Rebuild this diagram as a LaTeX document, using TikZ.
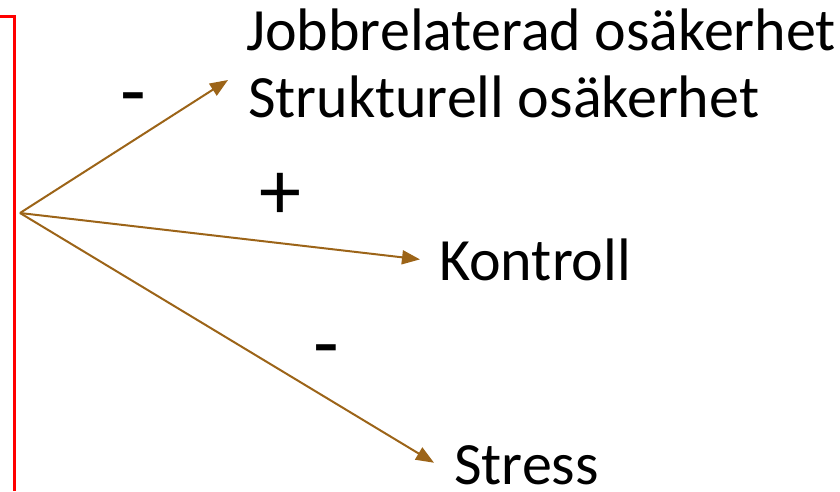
\documentclass[tikz,border=0pt]{standalone}
\usepackage{fontspec}
\setmainfont{Carlito}
\usetikzlibrary{arrows.meta}

\definecolor{arrowbrown}{HTML}{9C6418}

\begin{document}
\begin{tikzpicture}[x=1pt, y=-1pt,
    label/.style={anchor=base west, inner sep=0pt, font=\fontsize{60}{72}\selectfont},
    sign/.style={inner sep=0pt, font=\fontsize{84}{96}\selectfont},
    link/.style={arrowbrown, line width=2pt, -{Triangle[length=18pt, width=14pt]}}]

  \useasboundingbox (0,0) rectangle (840,491);

  % The red bracket on the left
  \draw[red, line width=3pt] (0,16) -- (14,16) -- (14,491);

  % The outcomes
  \node[label] (jobb) at (246,50) {Jobbrelaterad osäkerhet};
  \node[label] (strukt) at (248,117) {Strukturell osäkerhet};
  \node[label] (kontroll) at (439,280) {Kontroll};
  \node[label] (stress) at (454,484) {Stress};

  % The signs
  \node[sign] (minusA) at (133,106) {-};
  \node[sign] (plus) at (280,196) {+};
  \node[sign] (minusB) at (326,358) {-};

  % The arrows
  \coordinate (src) at (20,213);
  \coordinate (tipA) at (228,80);
  \draw[link] (src) -- (tipA);
  \draw[link] (src) -- ([xshift=-19pt, yshift=0pt]kontroll.west);
  \draw[link] (src) -- ([xshift=-20pt, yshift=2pt]stress.west);

\end{tikzpicture}
\end{document}
